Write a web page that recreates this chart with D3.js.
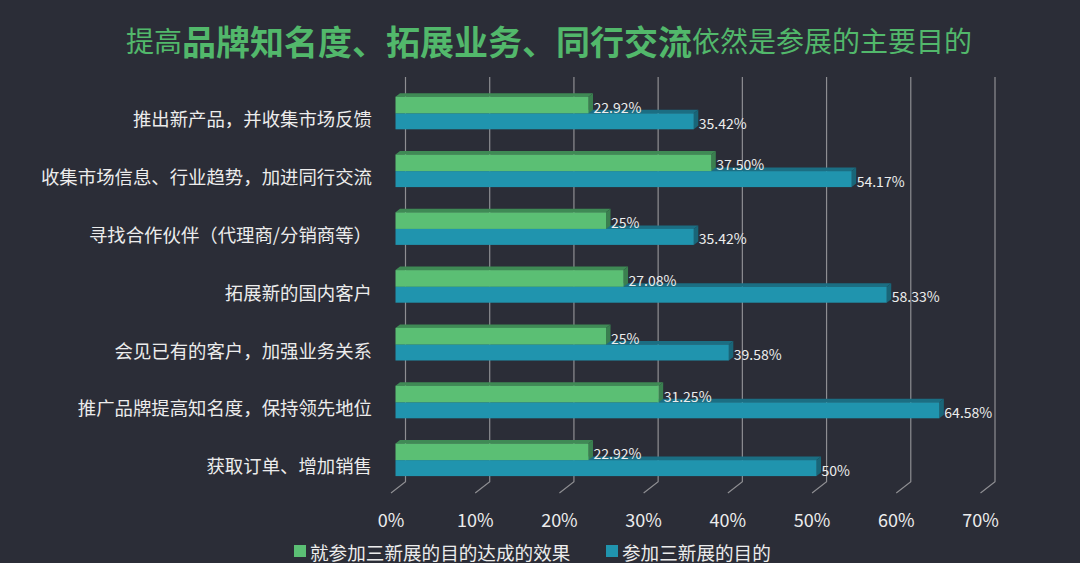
<!DOCTYPE html>
<html><head><meta charset="utf-8">
<script src="https://cdn.jsdelivr.net/npm/d3@7/dist/d3.min.js"></script>
<style>html,body{margin:0;padding:0;background:#2b2d37;}svg{display:block;}</style>
</head><body>
<svg id="chart" width="1080" height="563"></svg>
<script>
const categories = ["推出新产品，并收集市场反馈","收集市场信息、行业趋势，加进同行交流","寻找合作伙伴（代理商/分销商等）","拓展新的国内客户","会见已有的客户，加强业务关系","推广品牌提高知名度，保持领先地位","获取订单、增加销售"];
const seriesNames = ["就参加三新展的目的达成的效果","参加三新展的目的"];
const effectValues = [22.92,37.50,25,27.08,25,31.25,22.92];
const purposeValues = [35.42,54.17,35.42,58.33,39.58,64.58,50];
const effectLabels = ["22.92%","37.50%","25%","27.08%","25%","31.25%","22.92%"];
const purposeLabels = ["35.42%","54.17%","35.42%","58.33%","39.58%","64.58%","50%"];
const ticks = [0,10,20,30,40,50,60,70];
const tickLabels = ["0%","10%","20%","30%","40%","50%","60%","70%"];
const titleParts = [["提高",false],["品牌知名度、拓展业务、同行交流",true],["依然是参展的主要目的",false]];

const svg = d3.select("#chart");
const W=1080,H=563;
svg.append("rect").attr("width",W).attr("height",H).attr("fill","#2b2d37");
const font = "'Noto Sans CJK SC','Noto Sans',sans-serif";

const x = d3.scaleLinear().domain([0,70]).range([395.5,985]);
const y = d3.scaleBand().domain(categories).range([84.4,489]);
const DX=4.5, DY=-3.5, BACK=10, FRONT=-4.5;
const gTop=77, gBot=481.7, fY=493;

// gridlines
const grid = svg.append("g");
ticks.forEach(t=>{
  const bx = x(t)+BACK;
  grid.append("path").attr("d",`M${bx},${gTop}L${bx},${gBot}L${x(t)+FRONT},${fY}`)
    .attr("fill","none").attr("stroke","#8e8e92").attr("stroke-width",1.2);
});
// tick labels
svg.append("g").selectAll("text").data(ticks).join("text")
  .attr("x",d=>x(d)+FRONT).attr("y",519).attr("text-anchor","middle").attr("dominant-baseline","central")
  .attr("fill","#ececec").attr("font-family",font).attr("font-size",18).text((d,i)=>tickLabels[i]);

function bar3d(g,x0,x1,yt,yb,front,top,side){
  g.append("path").attr("d",`M${x0},${yt}L${x0+DX},${yt+DY}L${x1+DX},${yt+DY}L${x1},${yt}Z`).attr("fill",top);
  g.append("path").attr("d",`M${x1},${yt}L${x1+DX},${yt+DY}L${x1+DX},${yb+DY}L${x1},${yb}Z`).attr("fill",side);
  g.append("rect").attr("x",x0).attr("y",yt).attr("width",x1-x0).attr("height",yb-yt).attr("fill",front);
}
const bars = svg.append("g");
const hG=16.6, hT=16;
categories.forEach((c,i)=>{
  const cy = y(c)+y.bandwidth()/2;
  bar3d(bars,x(0),x(purposeValues[i]),cy,cy+hT,"#2094ae","#1b6e83","#196578");
  bar3d(bars,x(0),x(effectValues[i]),cy-hG,cy,"#5bbf74","#3f8a55","#3a7f4f");
});
const lab = svg.append("g").attr("font-family",font).attr("font-size",14).attr("fill","#ededed");
categories.forEach((c,i)=>{
  const cy = y(c)+y.bandwidth()/2;
  lab.append("text").attr("x",x(effectValues[i])+DX+0.5).attr("y",cy-hG/2+1.5).attr("dominant-baseline","central").text(effectLabels[i]);
  lab.append("text").attr("x",x(purposeValues[i])+DX+0.5).attr("y",cy+hT/2+1.5).attr("dominant-baseline","central").text(purposeLabels[i]);
});
// category labels
svg.append("g").selectAll("text").data(categories).join("text")
  .attr("x",372).attr("y",d=>y(d)+y.bandwidth()/2+5).attr("text-anchor","end").attr("dominant-baseline","central")
  .attr("fill","#ececec").attr("font-family",font).attr("font-size",18.4).text(d=>d);

// title
const title = svg.append("text").attr("x",549).attr("y",40).attr("text-anchor","middle").attr("dominant-baseline","central")
  .attr("fill","#52b86b").attr("font-family",font);
titleParts.forEach(([t,b])=>{
  title.append("tspan").attr("font-size",b?34:28).attr("font-weight",b?700:400).text(t);
});

// legend
const legColors=["#5bbf74","#2094ae"];
const legX=[294,606];
const leg = svg.append("g");
seriesNames.forEach((s,i)=>{
  leg.append("rect").attr("x",legX[i]).attr("y",545).attr("width",12).attr("height",12).attr("fill",legColors[i]);
  leg.append("text").attr("x",legX[i]+16).attr("y",551).attr("dominant-baseline","central")
    .attr("fill","#ececec").attr("font-family",font).attr("font-size",18.6).text(s);
});
</script>
</body></html>
